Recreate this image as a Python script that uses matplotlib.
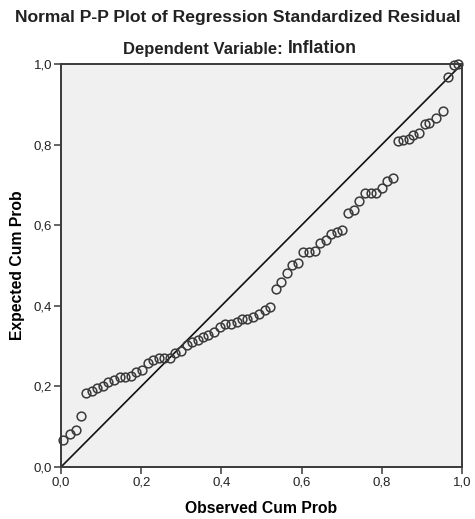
"""Normal P-P plot of regression standardized residuals (SPSS style)."""
import matplotlib
matplotlib.use("Agg")
import matplotlib.pyplot as plt
from matplotlib.ticker import FuncFormatter

plt.rcParams["font.family"] = ["Liberation Sans", "DejaVu Sans"]

# observed vs expected cumulative probability
observed_cum_prob = [
    0.006, 0.022, 0.037, 0.050, 0.062, 0.077, 0.091, 0.105, 0.118, 0.132,
    0.146, 0.160, 0.175, 0.188, 0.202, 0.216, 0.229, 0.244, 0.258, 0.272,
    0.284, 0.299, 0.313, 0.327, 0.341, 0.355, 0.367, 0.382, 0.397, 0.410,
    0.423, 0.438, 0.451, 0.465, 0.480, 0.494, 0.508, 0.522, 0.536, 0.549,
    0.564, 0.577, 0.592, 0.604, 0.618, 0.633, 0.647, 0.661, 0.674, 0.689,
    0.702, 0.716, 0.731, 0.744, 0.758, 0.772, 0.786, 0.800, 0.814, 0.827,
    0.840, 0.854, 0.867, 0.879, 0.893, 0.908, 0.918, 0.934, 0.953, 0.966,
    0.979, 0.991,
]
expected_cum_prob = [
    0.068, 0.082, 0.092, 0.127, 0.184, 0.189, 0.196, 0.201, 0.210, 0.216,
    0.223, 0.224, 0.226, 0.235, 0.241, 0.257, 0.266, 0.270, 0.270, 0.270,
    0.284, 0.288, 0.303, 0.310, 0.315, 0.323, 0.328, 0.336, 0.347, 0.355,
    0.355, 0.361, 0.366, 0.366, 0.373, 0.380, 0.390, 0.398, 0.441, 0.460,
    0.481, 0.501, 0.505, 0.533, 0.534, 0.536, 0.555, 0.563, 0.578, 0.584,
    0.588, 0.631, 0.638, 0.661, 0.679, 0.679, 0.681, 0.692, 0.710, 0.716,
    0.809, 0.811, 0.815, 0.823, 0.829, 0.850, 0.853, 0.867, 0.883, 0.967,
    0.998, 1.000,
]
ref_line = [0.0, 1.0]
tick_values = [0.0, 0.2, 0.4, 0.6, 0.8, 1.0]

title = "Normal P-P Plot of Regression Standardized Residual"
subtitle_prefix = "Dependent Variable: "
subtitle_var = "Inflation"
x_label = "Observed Cum Prob"
y_label = "Expected Cum Prob"

EDGE = "#3a3a3a"

fig = plt.figure(figsize=(4.75, 5.19), dpi=100)
ax = fig.add_axes([0.1284, 0.1002, 0.8442, 0.7765])
ax.set_facecolor("#f0f0f0")

ax.plot(ref_line, ref_line, color="#111111", linewidth=1.2, zorder=2)
ax.plot(observed_cum_prob, expected_cum_prob, linestyle="none", marker="o",
        markersize=6.3, markerfacecolor="none", markeredgecolor=EDGE,
        markeredgewidth=1.1, zorder=3, clip_on=False)

ax.set_xlim(0, 1)
ax.set_ylim(0, 1)
ax.set_xticks(tick_values)
ax.set_yticks(tick_values)
comma = FuncFormatter(lambda v, pos: f"{v:.1f}".replace(".", ","))
ax.xaxis.set_major_formatter(comma)
ax.yaxis.set_major_formatter(comma)
ax.tick_params(direction="out", length=5, width=1.1, color=EDGE,
               labelsize=9.5, labelcolor="#222222", pad=1.5)
for side in ax.spines.values():
    side.set_color(EDGE)
    side.set_linewidth(1.4)

ax.set_xlabel(x_label, fontsize=11.3, fontweight="bold", labelpad=9)
ax.set_ylabel(y_label, fontsize=11.3, fontweight="bold", labelpad=6)

fig.text(0.5, 0.966, title, ha="center", va="center",
         fontsize=12.6, fontweight="bold", color="#222222")
pre = fig.text(0.259, 0.905, subtitle_prefix, ha="left", va="center",
               fontsize=12, fontweight="bold", color="#222222")
fig.canvas.draw()
bb = pre.get_window_extent().transformed(fig.transFigure.inverted())
fig.text(bb.x1, 0.907, subtitle_var, ha="left", va="center",
         fontsize=12.8, fontweight="bold", color="#222222")

fig.savefig("out.png", dpi=100)
